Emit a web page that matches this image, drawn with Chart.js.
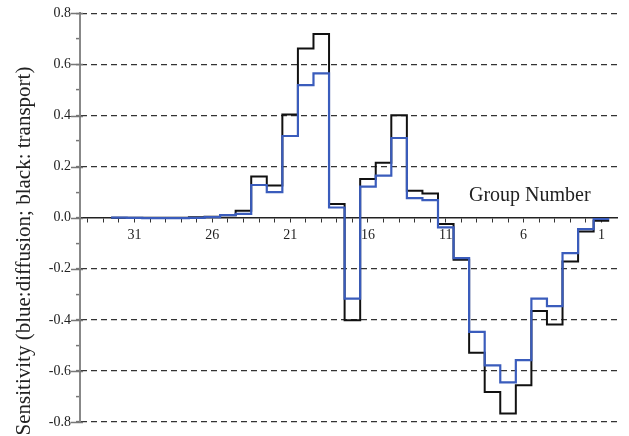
<!DOCTYPE html>
<html>
<head>
<meta charset="utf-8">
<script src="https://cdn.jsdelivr.net/npm/chart.js@4"></script>
<style>
  html, body { margin: 0; padding: 0; background: #fff; }
  #wrap { width: 629px; height: 436px; }
</style>
</head>
<body>
<div id="wrap"><canvas id="c" width="629" height="436"></canvas></div>
<script>
// Energy groups, numbered from 32 (lowest energy, left) down to 1 (right)
const groups = [32, 31, 30, 29, 28, 27, 26, 25, 24, 23, 22, 21, 20, 19, 18, 17,
                16, 15, 14, 13, 12, 11, 10, 9, 8, 7, 6, 5, 4, 3, 2, 1];

// Transport sensitivity per group (black)
const transport = [0.0, 0.0, 0.0, 0.0, 0.0, 0.002, 0.004, 0.01, 0.027, 0.161, 0.126, 0.404,
                   0.663, 0.719, 0.054, -0.402, 0.152, 0.215, 0.401, 0.106, 0.095, -0.025,
                   -0.165, -0.529, -0.683, -0.767, -0.656, -0.365, -0.418, -0.172, -0.054, -0.012];

// Diffusion sensitivity per group (blue)
const diffusion = [0.0, -0.001, -0.002, -0.002, -0.002, -0.001, 0.002, 0.01, 0.015, 0.128, 0.10, 0.32,
                   0.519, 0.565, 0.04, -0.317, 0.122, 0.165, 0.312, 0.077, 0.069, -0.038,
                   -0.158, -0.447, -0.578, -0.645, -0.558, -0.317, -0.346, -0.139, -0.045, -0.005];

// Axis ticks
const xTickValues = [34, 33, 32, 31, 30, 29, 28, 27, 26, 25, 24, 23, 22, 21, 20, 19, 18,
                     17, 16, 15, 14, 13, 12, 11, 10, 9, 8, 7, 6, 5, 4, 3, 2, 1];
const xLabelled = [31, 26, 21, 16, 11, 6, 1];
const yTickValues = [-0.8, -0.7, -0.6, -0.5, -0.4, -0.3, -0.2, -0.1, 0.0,
                     0.1, 0.2, 0.3, 0.4, 0.5, 0.6, 0.7, 0.8];
const yLabelled = [-0.8, -0.6, -0.4, -0.2, 0.0, 0.2, 0.4, 0.6, 0.8];

const yTitle = 'Sensitivity (blue:diffusion; black: transport)';
const xTitle = 'Group Number';

const SERIF = '"Liberation Serif", "Times New Roman", serif';

// Each group is a flat step spanning [g - 0.5, g + 0.5]; the step starts at
// the group's left edge (higher group number, since the axis is reversed).
function steps(values) {
  const pts = groups.map((g, i) => ({ x: g + 0.5, y: values[i] }));
  const last = groups.length - 1;
  pts.push({ x: groups[last] - 0.5, y: values[last] });
  return pts;
}

const isLabelledY = v => yLabelled.some(l => Math.abs(l - v) < 1e-9);

// Axis titles and the longer major y ticks
const decor = {
  id: 'decor',
  afterDraw(chart) {
    const { ctx, scales: { x, y } } = chart;
    ctx.save();
    // major y ticks crossing the axis line
    ctx.strokeStyle = '#777';
    ctx.lineWidth = 1.5;
    yLabelled.forEach(v => {
      const py = Math.round(y.getPixelForValue(v)) + 0.5;
      ctx.beginPath();
      ctx.moveTo(x.left - 9, py);
      ctx.lineTo(x.left + 3, py);
      ctx.stroke();
    });
    // x title inside the plot, just above the axis
    ctx.fillStyle = '#222';
    ctx.font = '20px ' + SERIF;
    ctx.textAlign = 'center';
    ctx.textBaseline = 'alphabetic';
    ctx.fillText(xTitle, x.getPixelForValue(5.6), y.getPixelForValue(0.066));
    // rotated y title
    ctx.translate(30, 251);
    ctx.rotate(-Math.PI / 2);
    ctx.font = '21px ' + SERIF;
    ctx.fillText(yTitle, 0, 0);
    ctx.restore();
  }
};

new Chart(document.getElementById('c'), {
  type: 'line',
  data: {
    datasets: [
      {
        label: 'diffusion',
        data: steps(diffusion),
        borderColor: '#3a5cbc',
        borderWidth: 2.2,
        stepped: true,
        pointRadius: 0,
        fill: false
      },
      {
        label: 'transport',
        data: steps(transport),
        borderColor: '#111',
        borderWidth: 2,
        stepped: true,
        pointRadius: 0,
        fill: false
      }
    ]
  },
  options: {
    responsive: false,
    animation: false,
    devicePixelRatio: 1,
    layout: { padding: { top: 13, right: 12, bottom: 14, left: 0 } },
    plugins: { legend: { display: false }, tooltip: { enabled: false } },
    scales: {
      x: {
        type: 'linear',
        reverse: true,
        min: 0,
        max: 34.5,
        position: { y: 0 },
        afterBuildTicks: s => { s.ticks = xTickValues.map(v => ({ value: v })); },
        ticks: {
          autoSkip: false,
          maxRotation: 0,
          padding: 5,
          color: '#222',
          font: { family: SERIF, size: 14 },
          callback: v => (xLabelled.includes(v) ? String(v) : '')
        },
        grid: {
          drawOnChartArea: false,
          drawTicks: true,
          tickLength: 4,
          tickColor: '#333',
          tickWidth: 1
        },
        border: { display: true, color: '#222', width: 1.5 }
      },
      y: {
        min: -0.8,
        max: 0.8,
        afterFit: s => { s.width = 80; },
        afterBuildTicks: s => { s.ticks = yTickValues.map(v => ({ value: v })); },
        ticks: {
          autoSkip: false,
          padding: 5,
          color: '#222',
          font: { family: SERIF, size: 14 },
          callback: v => (isLabelledY(v) ? v.toFixed(1) : '')
        },
        grid: {
          color: c => (isLabelledY(c.tick.value) && Math.abs(c.tick.value) > 1e-9) ? '#333' : 'rgba(0,0,0,0)',
          lineWidth: 1.2,
          drawTicks: true,
          tickLength: 4,
          tickColor: '#777',
          tickWidth: 1.5
        },
        border: { display: true, color: '#888', width: 2, dash: [6, 4] }
      }
    }
  },
  plugins: [decor]
});
</script>
</body>
</html>
